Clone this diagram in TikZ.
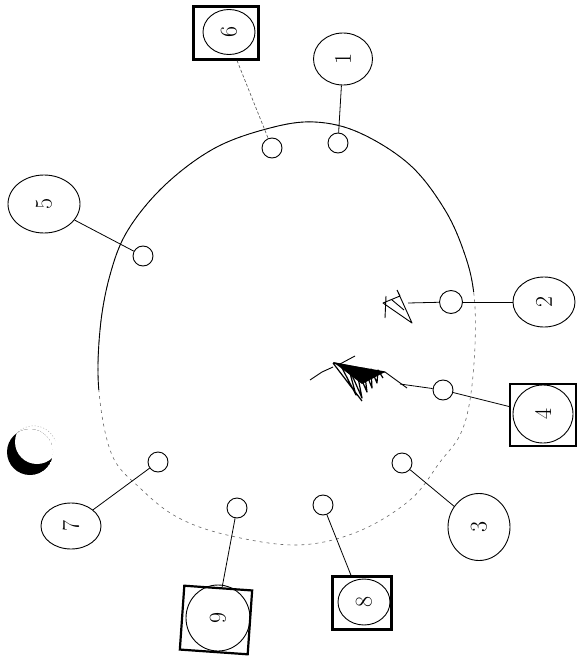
\documentclass[tikz,border=0pt]{standalone}
\usepackage{graphicx}
\usetikzlibrary{shapes.geometric}
\begin{document}
\begin{tikzpicture}[x=1pt,y=-1pt,
  dot/.style={circle,draw,line width=0.9pt,minimum size=20pt,inner sep=0pt},
  lab/.style={ellipse,draw,line width=0.9pt,inner sep=0pt,font=\fontsize{24}{24}\selectfont},
  box/.style={draw,line width=2.2pt,inner sep=0pt},
  wire/.style={line width=0.8pt},
  faint/.style={line width=0.6pt,densely dashed,black!70}]
\useasboundingbox (0,0) rectangle (578,663);
\def\blobpath{plot[smooth cycle,tension=0.6] coordinates {(99,392) (100,330) (110,275) (128,230) (165,185) (215,148) (270,128) (315,122) (360,133) (410,165) (445,210) (465,255) (474,295) (475,345) (470,400) (460,435) (440,462) (410,500) (357,532) (297,545) (227,535) (177,517) (140,488) (112,455)}}
% lower part of the outline, faint and broken
\draw[line width=0.6pt,dash pattern=on 3pt off 4pt,black!60] \blobpath;
% upper part of the outline, solid
\begin{scope}
  \clip (0,0) -- (578,0) -- (578,280) -- (474,292) -- (100,390) -- (0,390) -- cycle;
  \draw[line width=0.9pt] \blobpath;
\end{scope}

% small circles on the outline
\node[dot] (c6) at (272,148) {};
\node[dot] (c1) at (338,143) {};
\node[dot] (c5) at (143,256) {};
\node[dot,minimum size=23pt] (c2) at (451,302) {};
\node[dot] (c4) at (443,390) {};
\node[dot] (c3) at (402,463) {};
\node[dot] (c8) at (323,505) {};
\node[dot] (c9) at (237,508) {};
\node[dot] (c7) at (158,462) {};

% labels
\node[box,minimum width=65pt,minimum height=53pt] (s6) at (226,33) {};
\node[lab,minimum width=52pt,minimum height=45pt] (l6) at (229,32) {\rotatebox{90}{6}};
\node[lab,minimum width=59pt,minimum height=52pt] (l1) at (343,59) {\rotatebox{90}{1}};
\node[lab,minimum width=72pt,minimum height=58pt] (l5) at (44,204) {\rotatebox{90}{5}};
\node[lab,minimum width=62pt,minimum height=50pt] (l2) at (544,302) {\rotatebox{90}{2}};
\node[box,minimum width=66pt,minimum height=62pt] (s4) at (543,415) {};
\node[lab,minimum width=60pt,minimum height=58pt] (l4) at (543,414) {\rotatebox{90}{4}};
\node[lab,minimum width=62pt,minimum height=67pt] (l3) at (479,527) {\rotatebox{90}{3}};
\node[box,minimum width=59pt,minimum height=53pt] (s8) at (362,603) {};
\node[lab,minimum width=52pt,minimum height=46pt] (l8) at (364,602) {\rotatebox{90}{8}};
\node[box,minimum width=68pt,minimum height=64pt,rotate=-4] (s9) at (216,620) {};
\node[lab,minimum width=64pt,minimum height=66pt] (l9) at (218,618) {\rotatebox{90}{9}};
\node[lab,minimum width=60pt,minimum height=46pt] (l7) at (71,526) {\rotatebox{90}{7}};

% connectors
\draw[faint] (s6) -- (c6);
\draw[wire] (l1) -- (c1);
\draw[wire] (l5) -- (c5);
\draw[wire] (c2) -- (l2);
\draw[wire] (c4) -- (s4);
\draw[wire] (c3) -- (l3);
\draw[wire] (c8) -- (s8);
\draw[wire] (c9) -- (s9);
\draw[wire] (c7) -- (l7);

% scribbles inside the outline
\coordinate (sA) at (408,303);
\draw[wire] (c2) -- (sA);
\draw[line width=0.9pt,line join=round] (397,290) -- (412,323) -- (383,303) -- (400,296) -- (397,290)
  (386,296) -- (385,318) (392,300) -- (404,310);
\coordinate (sB) at (400,384);
\draw[wire] (c4) -- (sB);
\fill (333,362) -- (385,372) -- (362,384) -- cycle;
\draw[line width=1.2pt,line join=round] (333,363) -- (385,372) (333,363) -- (362,401)
  (340,364) -- (356,395) -- (348,366) -- (362,398) -- (356,367) -- (367,392) -- (364,368)
  -- (372,388) -- (371,369) -- (377,383) -- (378,370) -- (383,378);
\draw[line width=0.9pt,line join=round] (310,380) -- (322,372) -- (333,367)
  (340,364) -- (355,356) (385,372) -- (407,388);

% dark crescent
\begin{scope}
  \clip (30,452) circle (23pt);
  \fill (30,452) circle (23pt);
  \fill[white] (37,442) circle (22pt);
\end{scope}
\draw[line width=0.4pt,black!40,dash pattern=on 1pt off 2pt] (16,434) arc[start angle=140,end angle=20,radius=23pt];
\end{tikzpicture}
\end{document}
